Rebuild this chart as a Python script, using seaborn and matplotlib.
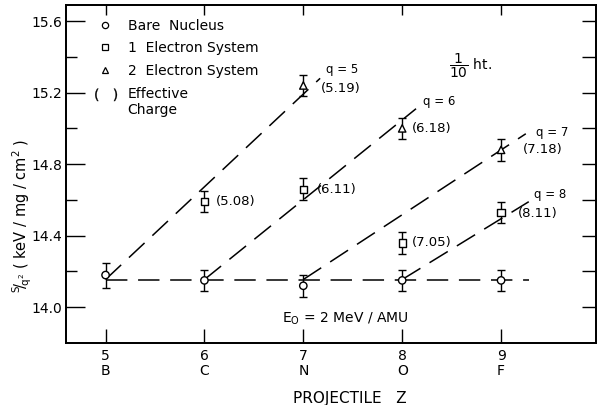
import matplotlib
matplotlib.use("Agg")
import matplotlib.pyplot as plt
from matplotlib.lines import Line2D
from matplotlib.textpath import TextPath
from matplotlib.path import Path
import seaborn as sns
import pandas as pd
import numpy as np

# ---- data ----
Z = [5, 6, 7, 8, 9]
elements = ["B", "C", "N", "O", "F"]

bare_Z = [5, 6, 7, 8, 9]
bare_S = [14.18, 14.15, 14.12, 14.15, 14.15]
bare_err = [0.07, 0.06, 0.06, 0.06, 0.06]

one_Z = [6, 7, 8, 9]
one_S = [14.59, 14.66, 14.36, 14.53]
one_err = [0.06, 0.06, 0.06, 0.06]
one_eff = ["(5.08)", "(6.11)", "(7.05)", "(8.11)"]

two_Z = [7, 8, 9]
two_S = [15.24, 15.00, 14.88]
two_err = [0.06, 0.06, 0.06]
two_eff = ["(5.19)", "(6.18)", "(7.18)"]

# dashed guide lines (q = 5..8) : start and end points
q_vals = [5, 6, 7, 8]
q_x0 = [5, 6, 7, 8]
q_y0 = [14.155, 14.155, 14.155, 14.155]
q_x1 = [7.17, 8.14, 9.25, 9.28]
q_y1 = [15.28, 15.11, 14.97, 14.59]
base_x = [5, 9.28]
base_y = [14.155, 14.155]

yticks_major = [14.0, 14.4, 14.8, 15.2, 15.6]
yticks_minor = [14.2, 14.6, 15.0, 15.4]

# ---- style ----
sns.set_style("ticks")
plt.rcParams["font.family"] = ["DejaVu Sans"]
plt.rcParams["mathtext.default"] = "regular"
plt.rcParams["axes.linewidth"] = 1.1
for k in ["text.color", "axes.labelcolor", "xtick.color", "ytick.color",
          "axes.edgecolor"]:
    plt.rcParams[k] = "black"

fig = plt.figure(figsize=(5.97, 4.05), dpi=100)
ax = fig.add_axes([66 / 597, 1 - 343 / 405, 530 / 597, 338 / 405])

fs = 9.5

# dashed lines
dash = (14, 7)
for x0, y0, x1, y1 in zip(q_x0, q_y0, q_x1, q_y1):
    d = pd.DataFrame({"x": [x0, x1], "y": [y0, y1]})
    sns.lineplot(data=d, x="x", y="y", ax=ax, color="black", lw=1.1,
                 estimator=None, sort=False)
    ax.lines[-1].set_dashes(dash)
d = pd.DataFrame({"x": base_x, "y": base_y})
sns.lineplot(data=d, x="x", y="y", ax=ax, color="black", lw=1.1,
             estimator=None, sort=False)
ax.lines[-1].set_dashes(dash)

# error bars
for xs, ys, es in [(bare_Z, bare_S, bare_err), (one_Z, one_S, one_err),
                   (two_Z, two_S, two_err)]:
    ax.errorbar(xs, ys, yerr=es, fmt="none", ecolor="black", elinewidth=1.0,
                capsize=3, capthick=1.0, zorder=3)

# markers
pts = pd.concat([
    pd.DataFrame({"Z": bare_Z, "S": bare_S, "kind": "Bare Nucleus"}),
    pd.DataFrame({"Z": one_Z, "S": one_S, "kind": "1 Electron System"}),
    pd.DataFrame({"Z": two_Z, "S": two_S, "kind": "2 Electron System"}),
])
sns.scatterplot(data=pts, x="Z", y="S", style="kind",
                markers={"Bare Nucleus": "o", "1 Electron System": "s",
                         "2 Electron System": "^"},
                s=28, facecolor="white", edgecolor="black", linewidth=1.0,
                ax=ax, legend=False, zorder=4)

# effective charge labels
one_off = [(8, 0), (10, 0), (7, 0), (12, -1)]
for x, y, t, o in zip(one_Z, one_S, one_eff, one_off):
    ax.annotate(t, (x, y), xytext=o, textcoords="offset points",
                ha="left", va="center", fontsize=fs)
two_off = [(13, -2), (7, 0), (16, 0)]
for x, y, t, o in zip(two_Z, two_S, two_eff, two_off):
    ax.annotate(t, (x, y), xytext=o, textcoords="offset points",
                ha="left", va="center", fontsize=fs)
q_off = [(4, 6), (5, 5), (7, 1), (4, 5)]
for q, x, y, o in zip(q_vals, q_x1, q_y1, q_off):
    ax.annotate(f"q = {q}", (x, y), xytext=o, textcoords="offset points",
                ha="left", va="center", fontsize=fs - 1)

ax.text(0.722, 0.82, r"$\dfrac{1}{10}$ ht.", transform=ax.transAxes,
        fontsize=fs + 0.5, ha="left", va="center")
ax.text(0.408, 0.073, r"E$_{\rm O}$ = 2 MeV / AMU", transform=ax.transAxes,
        fontsize=fs + 0.5, ha="left", va="center")

# parenthesis marker raised to line up with the first label line
tp = TextPath((0, 0), "(   )", size=1)
v = tp.vertices.copy()
cx = (v[:, 0].min() + v[:, 0].max()) / 2
cy = (v[:, 1].min() + v[:, 1].max()) / 2
v[:, 0] -= cx
v[:, 1] -= cy
v[:, 1] += 0.55
paren_path = Path(v, tp.codes)

# legend
handles = [
    Line2D([], [], ls="none", marker="o", mfc="white", mec="black", ms=4.5, mew=0.9),
    Line2D([], [], ls="none", marker="s", mfc="white", mec="black", ms=4.2, mew=0.9),
    Line2D([], [], ls="none", marker="^", mfc="white", mec="black", ms=4.8, mew=0.9),
    Line2D([], [], ls="none", marker=paren_path, color="black", ms=20, mew=0.2),
]
labels = ["Bare  Nucleus", "1  Electron System", "2  Electron System",
          "Effective\nCharge"]
leg = ax.legend(handles, labels, loc="upper left", bbox_to_anchor=(0.048, 0.976),
                frameon=False, fontsize=fs + 0.5, handlelength=1.2,
                handletextpad=1.0, labelspacing=0.62, borderaxespad=0)

# axes
ax.set_xlim(4.6, 9.96)
ax.set_ylim(13.8, 15.69)
ax.set_xticks(Z)
ax.set_xticklabels([f"{z}\n{e}" for z, e in zip(Z, elements)], fontsize=fs + 0.5,
                   linespacing=1.15)
ax.set_yticks(yticks_major)
ax.set_yticklabels([f"{v:.1f}" for v in yticks_major], fontsize=fs + 0.5)
ax.set_yticks(yticks_minor, minor=True)
ax.tick_params(axis="x", which="major", direction="in", length=10, width=1.0,
               top=False, pad=4)
ax.tick_params(axis="y", which="major", direction="in", length=14, width=1.0,
               right=False, pad=3)
ax.tick_params(axis="y", which="minor", direction="in", length=8, width=1.0,
               right=False)

ax2 = ax.twinx()
ax2.set_ylim(ax.get_ylim())
ax2.set_yticks(yticks_major + yticks_minor)
ax2.tick_params(axis="y", direction="in", length=10, width=1.0, labelright=False)
ax2.set_yticklabels([])

ax3 = ax.twiny()
ax3.set_xlim(ax.get_xlim())
ax3.set_xticks(Z)
ax3.tick_params(axis="x", direction="in", length=7, width=1.0, labeltop=False)
ax3.set_xticklabels([])

ax.set_xlabel("PROJECTILE   Z", fontsize=fs + 1.5)
ax.xaxis.set_label_coords(0.536, -0.143)
ax.set_ylabel(r"$^{S}\!/\!_{q^{2}}$ ( keV / mg / cm$^{2}$ )", fontsize=fs + 1)
ax.yaxis.set_label_coords(-0.061, 0.376)

fig.savefig("out.png", dpi=100)
